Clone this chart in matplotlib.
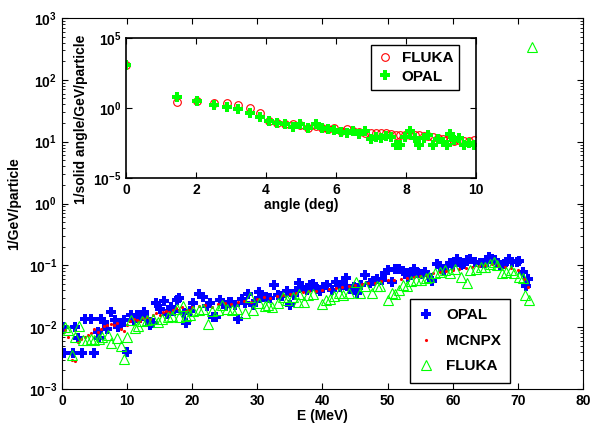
import matplotlib
matplotlib.use("Agg")
import matplotlib.pyplot as plt
from matplotlib.ticker import FixedLocator, FixedFormatter, LogLocator, NullFormatter

plt.rcParams["font.family"] = ["Liberation Sans", "DejaVu Sans"]
plt.rcParams["font.weight"] = "bold"
plt.rcParams["mathtext.fontset"] = "custom"
plt.rcParams["mathtext.rm"] = "Liberation Sans:bold"
plt.rcParams["mathtext.bf"] = "Liberation Sans:bold"

# energy spectrum (main axes)
opal_e = [0.15, 0.4, 1.7, 1.95, 2.5, 3.1, 3.5, 4.5, 5.0, 5.5,
          5.7, 6.0, 6.5, 7.0, 7.5, 8.1, 8.6, 9.1, 9.6, 10.0,
          10.6, 11.0, 11.5, 12.0, 12.6, 13.0, 13.5, 14.0, 14.5, 15.0,
          15.7, 16.2, 16.7, 17.2, 17.6, 18.0, 18.8, 19.1, 19.6, 20.2,
          21.0, 21.6, 22.2, 22.7, 23.2, 23.6, 24.2, 24.8, 25.2, 25.7,
          26.0, 26.5, 27.1, 27.6, 28.1, 28.6, 29.3, 29.8, 30.2, 30.9,
          31.4, 31.9, 32.6, 33.2, 33.8, 34.5, 35.0, 35.6, 36.0, 36.4,
          36.8, 37.6, 38.1, 38.6, 39.1, 39.6, 40.1, 40.7, 41.4, 42.1,
          42.7, 43.1, 43.6, 44.2, 44.8, 45.3, 45.9, 46.5, 47.3, 47.8,
          48.3, 49.1, 49.6, 50.1, 50.6, 51.2, 51.7, 52.4, 53.0, 53.2,
          53.6, 54.1, 54.7, 55.2, 55.7, 56.2, 56.8, 57.5, 58.1, 58.6,
          59.1, 59.6, 60.1, 60.6, 61.2, 61.7, 62.2, 62.7, 63.4, 64.2,
          64.8, 65.2, 65.6, 66.0, 66.5, 67.0, 67.3, 67.8, 68.2, 68.6,
          69.1, 69.8, 70.2, 70.8, 71.3, 71.6]
opal_v = [0.010, 0.0038, 0.0038, 0.010, 0.0066, 0.0038, 0.0135, 0.0135, 0.0038, 0.0083,
          0.0066, 0.0135, 0.0123, 0.0095, 0.0174, 0.0133, 0.010, 0.011, 0.0133, 0.0039,
          0.0155, 0.0125, 0.0155, 0.0140, 0.0174, 0.0135, 0.011, 0.0115, 0.025, 0.020,
          0.027, 0.0165, 0.021, 0.0185, 0.028, 0.030, 0.017, 0.0117, 0.018, 0.025,
          0.035, 0.031, 0.022, 0.025, 0.0146, 0.0146, 0.028, 0.024, 0.022, 0.026,
          0.026, 0.023, 0.0135, 0.029, 0.025, 0.035, 0.023, 0.027, 0.037, 0.031,
          0.031, 0.030, 0.048, 0.033, 0.032, 0.038, 0.023, 0.033, 0.038, 0.052,
          0.045, 0.040, 0.049, 0.050, 0.042, 0.038, 0.045, 0.048, 0.040, 0.054,
          0.044, 0.048, 0.063, 0.041, 0.045, 0.036, 0.048, 0.069, 0.052, 0.055,
          0.060, 0.058, 0.074, 0.083, 0.054, 0.088, 0.086, 0.080, 0.074, 0.066,
          0.070, 0.088, 0.074, 0.072, 0.077, 0.070, 0.056, 0.107, 0.096, 0.085,
          0.096, 0.110, 0.100, 0.125, 0.100, 0.105, 0.120, 0.125, 0.115, 0.108,
          0.108, 0.115, 0.138, 0.125, 0.120, 0.110, 0.100, 0.105, 0.115, 0.125,
          0.115, 0.115, 0.117, 0.077, 0.046, 0.060]

mcnpx_e = [0.5, 1.0, 1.5, 2.0, 2.5, 3.0, 3.5, 4.0, 4.5, 5.0,
           5.5, 6.0, 6.5, 7.0, 7.5, 8.0, 8.5, 9.0, 9.5, 10.0,
           10.5, 11.0, 11.5, 12.0, 12.5, 13.0, 13.5, 14.0, 14.5, 15.0,
           15.5, 16.0, 16.5, 17.0, 17.5, 18.0, 18.5, 19.0, 19.5, 20.0,
           21.0, 22.0, 23.0, 24.0, 25.0, 26.0, 27.0, 28.0, 29.0, 30.0,
           31.0, 32.0, 33.0, 34.0, 35.0, 36.0, 37.0, 38.0, 39.0, 40.0,
           41.0, 42.0, 43.0, 44.0, 45.0, 46.0, 47.0, 48.0, 49.0, 50.0,
           51.0, 52.0, 53.0, 54.0, 55.0, 56.0, 57.0, 58.0, 59.0, 60.0,
           61.0, 62.0, 63.0, 64.0, 65.0, 66.0, 67.0, 68.0, 69.0, 70.0,
           71.0, 71.5]
mcnpx_v = [0.009, 0.007, 0.003, 0.0028, 0.0058, 0.0065, 0.007, 0.0075, 0.008, 0.0095,
           0.0085, 0.0092, 0.0105, 0.011, 0.0112, 0.0108, 0.0115, 0.0095, 0.0088, 0.011,
           0.0125, 0.0135, 0.013, 0.0128, 0.014, 0.0145, 0.0135, 0.016, 0.017, 0.016,
           0.0175, 0.018, 0.0178, 0.019, 0.0205, 0.019, 0.021, 0.018, 0.019, 0.021,
           0.022, 0.023, 0.021, 0.024, 0.025, 0.024, 0.026, 0.027, 0.026, 0.029,
           0.031, 0.030, 0.032, 0.033, 0.034, 0.036, 0.037, 0.039, 0.038, 0.040,
           0.042, 0.043, 0.045, 0.046, 0.048, 0.050, 0.052, 0.051, 0.055, 0.058,
           0.057, 0.060, 0.063, 0.065, 0.068, 0.070, 0.074, 0.078, 0.080, 0.085,
           0.088, 0.090, 0.094, 0.097, 0.100, 0.105, 0.100, 0.095, 0.092, 0.085,
           0.060, 0.045]

fluka_e = [0.5, 0.9, 1.5, 1.95, 2.6, 3.2, 3.9, 4.4, 5.0, 5.7,
           6.2, 7.1, 7.6, 8.5, 9.0, 9.6, 10.0, 10.6, 11.2, 11.7,
           12.3, 13.0, 14.0, 14.8, 15.4, 16.3, 16.9, 17.6, 17.9, 18.6,
           19.1, 19.6, 20.2, 21.0, 21.7, 22.5, 23.1, 23.9, 24.5, 25.3,
           26.1, 26.9, 28.1, 28.9, 29.4, 30.3, 31.1, 31.6, 32.3, 33.1,
           33.9, 34.6, 35.4, 36.2, 36.4, 37.2, 37.8, 38.5, 39.9, 40.5,
           41.2, 41.8, 42.5, 43.2, 44.0, 45.2, 45.8, 46.6, 47.6, 48.4,
           48.9, 50.1, 50.6, 51.1, 51.7, 52.4, 52.9, 53.6, 54.4, 55.1,
           55.9, 56.3, 57.3, 58.0, 58.8, 59.6, 60.3, 61.3, 62.2, 62.7,
           63.5, 64.3, 65.0, 65.7, 66.3, 66.8, 67.6, 68.1, 68.9, 69.4,
           70.2, 70.7, 71.1, 71.7, 72.1]
fluka_v = [0.010, 0.009, 0.0036, 0.0069, 0.0103, 0.0062, 0.0062, 0.0065, 0.0062, 0.0064,
           0.0070, 0.0074, 0.0055, 0.0068, 0.0049, 0.0031, 0.0069, 0.0133, 0.0098, 0.0105,
           0.0125, 0.0130, 0.0138, 0.0120, 0.0138, 0.0147, 0.0153, 0.020, 0.0147, 0.022,
           0.015, 0.0155, 0.0186, 0.019, 0.020, 0.0114, 0.018, 0.019, 0.0225, 0.020,
           0.019, 0.020, 0.0167, 0.031, 0.019, 0.025, 0.022, 0.023, 0.021, 0.025,
           0.031, 0.028, 0.031, 0.026, 0.034, 0.026, 0.033, 0.034, 0.024, 0.028,
           0.029, 0.032, 0.036, 0.033, 0.036, 0.054, 0.036, 0.046, 0.036, 0.046,
           0.046, 0.028, 0.036, 0.035, 0.040, 0.048, 0.046, 0.055, 0.058, 0.057,
           0.062, 0.066, 0.074, 0.078, 0.083, 0.074, 0.088, 0.066, 0.052, 0.083,
           0.088, 0.093, 0.093, 0.107, 0.114, 0.100, 0.074, 0.078, 0.083, 0.074,
           0.066, 0.062, 0.033, 0.028, 340.0]

# angular distribution (inset)
angle = [0, 1.45, 2.02, 2.5, 2.88, 3.21, 3.54, 3.83, 4.07, 4.3,
         4.54, 4.76, 4.97, 5.21, 5.42, 5.59, 5.78, 5.95, 6.14, 6.31,
         6.48, 6.65, 6.83, 7.0, 7.14, 7.28, 7.43, 7.57, 7.71, 7.83,
         7.97, 8.1, 8.25, 8.37, 8.5, 8.64, 8.77, 8.9, 9.05, 9.17,
         9.26, 9.38, 9.52, 9.67, 9.81, 9.95]
ang_fluka = [1200, 2.8, 3.2, 2.4, 2.2, 1.6, 1.1, 0.42, 0.117, 0.089,
             0.072, 0.069, 0.062, 0.040, 0.051, 0.035, 0.030, 0.035, 0.023, 0.030,
             0.023, 0.020, 0.0155, 0.0155, 0.017, 0.0155, 0.0155, 0.0138, 0.0117, 0.0117,
             0.0117, 0.0117, 0.0117, 0.0117, 0.010, 0.010, 0.0089, 0.0068, 0.0058, 0.0051,
             0.0051, 0.0044, 0.0051, 0.0044, 0.0044, 0.0055]
ang_opal = [1200, 5.8, 3.2, 1.8, 1.2, 0.8, 0.46, 0.22, 0.117, 0.089,
            0.072, 0.047, 0.068, 0.040, 0.068, 0.035, 0.030, 0.027, 0.020, 0.017,
            0.023, 0.0132, 0.024, 0.0058, 0.0089, 0.0079, 0.010, 0.0089, 0.0023, 0.0023,
            0.0089, 0.024, 0.0068, 0.0023, 0.0079, 0.0117, 0.0023, 0.0058, 0.0040, 0.0023,
            0.0138, 0.0051, 0.0068, 0.0023, 0.0030, 0.0023]

main_yticks = [1e-3, 1e-2, 1e-1, 1e0, 1e1, 1e2, 1e3]
main_ylabels = [r"$\mathbf{10^{-3}}$", r"$\mathbf{10^{-2}}$", r"$\mathbf{10^{-1}}$",
                r"$\mathbf{10^{0}}$", r"$\mathbf{10^{1}}$", r"$\mathbf{10^{2}}$",
                r"$\mathbf{10^{3}}$"]
inset_yticks = [1e-5, 1e0, 1e5]
inset_ylabels = [r"$\mathbf{10^{-5}}$", r"$\mathbf{10^{0}}$", r"$\mathbf{10^{5}}$"]

fs = 10

fig = plt.figure(figsize=(5.95, 4.24), dpi=100)
ax = fig.add_axes([0.104, 0.0825, 0.876, 0.875])

ax.plot(opal_e, opal_v, ls="none", marker="P", ms=7, mew=0,
        color="#0000ff", label="OPAL")
ax.plot(mcnpx_e, mcnpx_v, ls="none", marker=".", ms=2.5,
        color="#ff0000", label="MCNPX")
ax.plot(fluka_e, fluka_v, ls="none", marker="^", ms=7, mfc="none", mew=0.8,
        color="#00ff00", label="FLUKA")

ax.set_yscale("log")
ax.set_xlim(0, 80)
ax.set_ylim(1e-3, 1e3)
ax.set_xticks(range(0, 81, 10))
ax.yaxis.set_major_locator(FixedLocator(main_yticks))
ax.yaxis.set_major_formatter(FixedFormatter(main_ylabels))
ax.yaxis.set_minor_locator(LogLocator(base=10, subs=range(2, 10), numticks=20))
ax.yaxis.set_minor_formatter(NullFormatter())
ax.tick_params(which="both", direction="in", top=True, right=True, labelsize=fs)
ax.tick_params(which="major", length=4, width=0.8)
ax.tick_params(which="minor", length=2, width=0.6)
for lab in ax.get_xticklabels():
    lab.set_fontweight("bold")
ax.set_xlabel("E (MeV)", fontsize=fs, fontweight="bold", labelpad=1)
ax.set_ylabel("1/GeV/particle", fontsize=fs, fontweight="bold")
ax.yaxis.set_label_coords(-0.078, 0.5)

leg = ax.legend(loc="center", bbox_to_anchor=(0.773, 0.196), bbox_transform=fig.transFigure,
                fontsize=fs + 1, fancybox=False, edgecolor="black", framealpha=1,
                labelspacing=0.75, handlelength=1.0, handletextpad=0.8, borderpad=0.6)
leg.get_frame().set_linewidth(1.0)

# inset
ins = fig.add_axes([0.212, 0.580, 0.588, 0.330])
ins.plot(angle, ang_fluka, ls="none", marker="o", ms=5.5, mfc="none", mew=0.8,
         color="#ff0000", label="FLUKA")
ins.plot(angle, ang_opal, ls="none", marker="P", ms=7, mew=0,
         color="#00ff00", label="OPAL")
ins.set_yscale("log")
ins.set_xlim(0, 10)
ins.set_ylim(1e-5, 1e5)
ins.set_xticks(range(0, 11, 2))
ins.yaxis.set_major_locator(FixedLocator(inset_yticks))
ins.yaxis.set_major_formatter(FixedFormatter(inset_ylabels))
ins.yaxis.set_minor_locator(FixedLocator([]))
ins.tick_params(which="both", direction="in", top=True, right=True, labelsize=fs,
                length=4, width=0.8)
for lab in ins.get_xticklabels():
    lab.set_fontweight("bold")
for sp in ins.spines.values():
    sp.set_linewidth(1.2)
ins.set_xlabel("angle (deg)", fontsize=fs, fontweight="bold", labelpad=1)
ins.set_ylabel("1/solid angle/GeV/particle", fontsize=fs, fontweight="bold")
ins.yaxis.set_label_coords(-0.108, 0.42)

leg2 = ins.legend(loc="center", bbox_to_anchor=(0.698, 0.841), bbox_transform=fig.transFigure,
                  fontsize=fs + 1, fancybox=False, edgecolor="black", framealpha=1,
                  labelspacing=0.3, handlelength=1.0, handletextpad=0.6, borderpad=0.4)
leg2.get_frame().set_linewidth(1.0)

fig.savefig("out.png", dpi=100)
